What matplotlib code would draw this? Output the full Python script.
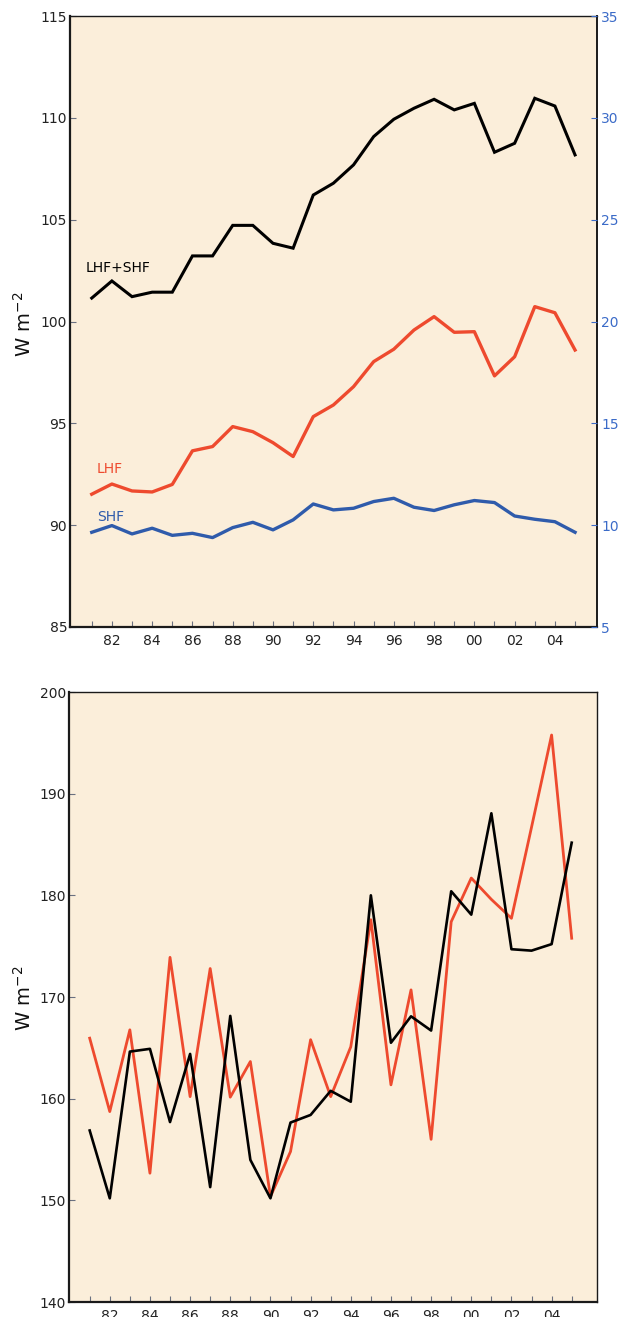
import matplotlib
matplotlib.use("Agg")
import matplotlib.pyplot as plt

plt.rcParams['font.family'] = ['DejaVu Sans']

# ---- data ----
years = list(range(1981, 2006))
tick_labels = [f"{y % 100:02d}" if y % 2 == 0 else "" for y in years]

lhf_shf = [101.15, 101.99, 101.22, 101.44, 101.44, 103.22, 103.22, 104.72, 104.72, 103.84,
           103.6, 106.21, 106.79, 107.69, 109.08, 109.93, 110.47, 110.91, 110.39, 110.71,
           108.31, 108.75, 110.96, 110.58, 108.18]
lhf = [91.52, 92.02, 91.68, 91.63, 92.0, 93.65, 93.86, 94.84, 94.59, 94.05,
       93.37, 95.33, 95.9, 96.8, 98.03, 98.64, 99.58, 100.24, 99.47, 99.5,
       97.33, 98.27, 100.73, 100.43, 98.6]
shf = [9.65, 9.98, 9.57, 9.85, 9.50, 9.60, 9.39, 9.88, 10.14, 9.77,
       10.26, 11.04, 10.75, 10.83, 11.16, 11.32, 10.88, 10.72, 11.0, 11.21,
       11.11, 10.45, 10.29, 10.17, 9.65]

red_b = [165.95, 158.73, 166.77, 152.67, 173.9, 160.2, 172.8, 160.15, 163.65, 150.37,
         154.8, 165.8, 160.2, 165.1, 177.6, 161.36, 170.7, 156.0, 177.4, 181.7,
         179.6, 177.74, 186.7, 195.77, 175.78]
black_b = [156.87, 150.2, 164.63, 164.9, 157.7, 164.4, 151.3, 168.14, 153.98, 150.2,
           157.65, 158.4, 160.77, 159.7, 180.0, 165.5, 168.1, 166.7, 180.4, 178.1,
           188.07, 174.7, 174.56, 175.2, 185.18]

left_ticks_top = [85, 90, 95, 100, 105, 110, 115]
right_ticks_top = [5, 10, 15, 20, 25, 30, 35]
left_ticks_bot = [140, 150, 160, 170, 180, 190, 200]

BG = '#fbeeda'
RED = '#ee4a2e'
BLUE = '#2f5bab'
BLUE_TXT = '#3b6bc8'
SPINE = '#1a1a1a'

W, H = 621, 1317
fig = plt.figure(figsize=(W / 100, H / 100), dpi=100)
fig.patch.set_facecolor('white')


def box(l, t, r, b):
    return [l / W, 1 - b / H, (r - l) / W, (b - t) / H]


def style(ax):
    ax.set_facecolor(BG)
    for s in ax.spines.values():
        s.set_color(SPINE)
        s.set_linewidth(1.0)
    ax.spines['left'].set_linewidth(1.6)
    ax.spines['bottom'].set_linewidth(1.6)
    ax.tick_params(direction='in', length=4, width=0.8, color='#6a7080',
                   labelsize=10, labelcolor='#222222', pad=2)
    ax.set_xticks(years)
    ax.set_xticklabels(tick_labels)
    ax.tick_params(axis='x', pad=5)


# ---- top panel ----
ax1 = fig.add_axes(box(70, 16, 597, 627))
style(ax1)
ax1.plot(years, lhf_shf, color='black', lw=2.2, solid_joinstyle='miter')
ax1.plot(years, lhf, color=RED, lw=2.4)
ax1.set_xlim(1979.92, 2006.09)
ax1.set_ylim(85, 115)
ax1.set_yticks(left_ticks_top)

ax2 = ax1.twinx()
ax2.plot(years, shf, color=BLUE, lw=2.4)
ax2.set_ylim(5, 35)
ax2.set_yticks(right_ticks_top)
ax2.tick_params(direction='in', length=4, width=0.8, color=BLUE_TXT,
                labelsize=10, labelcolor=BLUE_TXT, pad=3)
for s in ax2.spines.values():
    s.set_visible(False)
ax1.spines['right'].set_linewidth(1.4)

ax1.text(1980.72, 102.63, 'LHF+SHF', color='black', fontsize=10, va='center', ha='left')
ax1.text(1981.26, 92.76, 'LHF', color=RED, fontsize=10, va='center', ha='left')
ax1.text(1981.26, 90.40, 'SHF', color=BLUE, fontsize=10, va='center', ha='left')

fig.text(24 / W, 1 - 324 / H, 'W m$^{-2}$', rotation=90, ha='center', va='center',
         fontsize=14, color='#111111')

# ---- bottom panel ----
ax3 = fig.add_axes(box(69, 692, 597, 1302))
style(ax3)
ax3.plot(years, red_b, color=RED, lw=2.0)
ax3.plot(years, black_b, color='black', lw=1.9)
ax3.set_xlim(1979.97, 2006.26)
ax3.set_ylim(140, 200)
ax3.set_yticks(left_ticks_bot)

fig.text(24 / W, 1 - 998 / H, 'W m$^{-2}$', rotation=90, ha='center', va='center',
         fontsize=14, color='#111111')

fig.savefig('out.png', dpi=100, facecolor=fig.get_facecolor())
